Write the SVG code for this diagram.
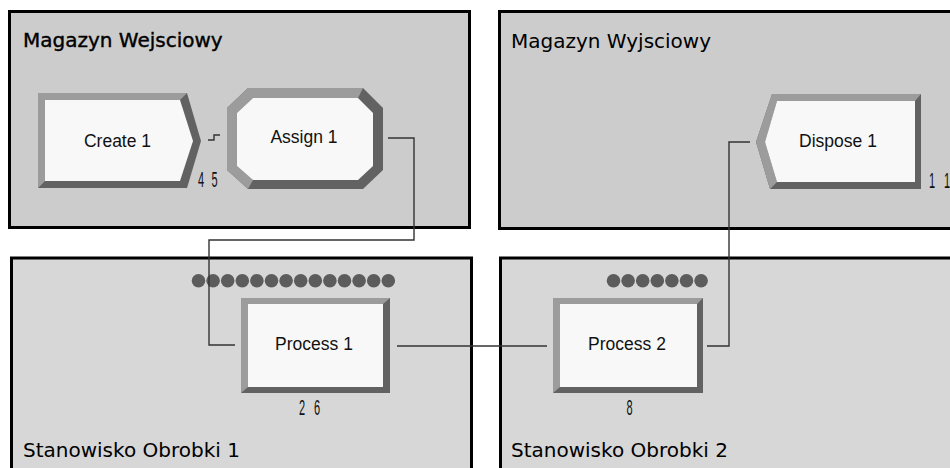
<svg xmlns="http://www.w3.org/2000/svg" width="950" height="468" viewBox="0 0 950 468">
<defs>
<style>
.bg{fill:#ffffff}
.panelTop{fill:#cccccc;stroke:#000;stroke-width:3}
.panelBot{fill:#d7d7d7;stroke:#000;stroke-width:3}
.title{font-family:"DejaVu Sans","Verdana",sans-serif;font-size:20px;fill:#000}
.dark{fill:#626262}
.light{fill:#9c9c9c}
.face{fill:#f8f8f8}
.lbl{font-family:"Liberation Sans",Arial,sans-serif;font-size:17.5px;fill:#111;text-anchor:middle}
.cnt{font-family:"Liberation Sans",Arial,sans-serif;font-size:22px;fill:#111}
.dot{fill:#5c5c5c}
.conn{fill:none;stroke:#333;stroke-width:1.4}
</style>
</defs>
<rect class="bg" x="0" y="0" width="950" height="468"/>
<g id="panels">
<g id="panel-magazyn-wejsciowy">
<rect class="panelTop" x="9.5" y="11.5" width="460" height="216"/>
<text class="title" x="23" y="47" stroke="#000" stroke-width="0.4">Magazyn Wejsciowy</text>
</g>
<g id="panel-magazyn-wyjsciowy">
<rect class="panelTop" x="499.5" y="11.5" width="470" height="217"/>
<text class="title" x="511" y="48">Magazyn Wyjsciowy</text>
</g>
<g id="panel-stanowisko-1">
<rect class="panelBot" x="11.5" y="258" width="460" height="230"/>
<text class="title" x="23" y="457">Stanowisko Obrobki 1</text>
</g>
<g id="panel-stanowisko-2">
<rect class="panelBot" x="500.5" y="258" width="470" height="230"/>
<text class="title" x="511" y="457">Stanowisko Obrobki 2</text>
</g>
</g>
<g id="queues">
<g id="queue-process-1" class="dot">
<circle cx="198.5" cy="280.7" r="6.8"/><circle cx="213.1" cy="280.7" r="6.8"/><circle cx="227.7" cy="280.7" r="6.8"/><circle cx="242.3" cy="280.7" r="6.8"/><circle cx="256.9" cy="280.7" r="6.8"/><circle cx="271.5" cy="280.7" r="6.8"/><circle cx="286.1" cy="280.7" r="6.8"/><circle cx="300.7" cy="280.7" r="6.8"/><circle cx="315.3" cy="280.7" r="6.8"/><circle cx="329.9" cy="280.7" r="6.8"/><circle cx="344.5" cy="280.7" r="6.8"/><circle cx="359.1" cy="280.7" r="6.8"/><circle cx="373.7" cy="280.7" r="6.8"/><circle cx="388.3" cy="280.7" r="6.8"/>
</g>
<g id="queue-process-2" class="dot">
<circle cx="613.5" cy="280.7" r="6.8"/><circle cx="628.1" cy="280.7" r="6.8"/><circle cx="642.7" cy="280.7" r="6.8"/><circle cx="657.3" cy="280.7" r="6.8"/><circle cx="671.9" cy="280.7" r="6.8"/><circle cx="686.5" cy="280.7" r="6.8"/><circle cx="701.1" cy="280.7" r="6.8"/>
</g>
</g>
<g id="connectors">
<polyline class="conn" points="208,140 214,140 214,135 220,135"/>
<polyline class="conn" points="388,138 414,138 414,240 209,240 209,345 235,345"/>
<polyline class="conn" points="397,346 547,346"/>
<polyline class="conn" points="707,346 729,346 729,142 750,142"/>
</g>
<g id="create-1">
<polygon class="dark" points="38,93 187,93 201,141 187,188 38,188"/>
<polygon class="light" points="187,93 38,93 38,188 45,181 45,100 180,100"/>
<polygon class="face" points="45,100 180,100 193,141 180,181 45,181"/>
<text class="lbl" x="117.5" y="147">Create 1</text>
<text class="cnt" transform="translate(198,187) scale(0.5,1)"><tspan x="0 13.4 26.8" y="0">4 5</tspan></text>
</g>
<g id="assign-1">
<polygon class="dark" points="248,88 363,88 383,108 383,170 363,189 248,189 227,170 227,108"/>
<polygon class="light" points="363,88 248,88 227,108 227,170 248,189 253,180 237,166 237,113 253,98 358,98"/>
<polygon class="face" points="253,98 358,98 373,113 373,166 358,180 253,180 237,166 237,113"/>
<text class="lbl" x="304" y="143">Assign 1</text>
</g>
<g id="dispose-1">
<polygon class="dark" points="756,142 772,94 921,94 921,189 770,189"/>
<polygon class="light" points="921,94 772,94 756,142 770,189 777,182 765,142 777,101 915,101"/>
<polygon class="face" points="765,142 777,101 915,101 915,182 777,182"/>
<text class="lbl" x="838" y="147">Dispose 1</text>
<text class="cnt" transform="translate(929,188) scale(0.5,1)"><tspan x="0 15 30" y="0">1 1</tspan></text>
</g>
<g id="process-1">
<rect class="dark" x="241" y="298" width="149" height="95"/>
<polygon class="light" points="241,298 390,298 383,304 248,304 248,387 241,393"/>
<rect class="face" x="248" y="304" width="135" height="83"/>
<text class="lbl" x="314" y="350">Process 1</text>
<text class="cnt" transform="translate(299,415) scale(0.5,1)"><tspan x="0 15 30" y="0">2 6</tspan></text>
</g>
<g id="process-2">
<rect class="dark" x="553" y="298" width="150" height="95"/>
<polygon class="light" points="553,298 703,298 697,304 560,304 560,387 553,393"/>
<rect class="face" x="560" y="304" width="137" height="83"/>
<text class="lbl" x="627" y="350">Process 2</text>
<text class="cnt" transform="translate(626.5,415) scale(0.5,1)">8</text>
</g>
</svg>
